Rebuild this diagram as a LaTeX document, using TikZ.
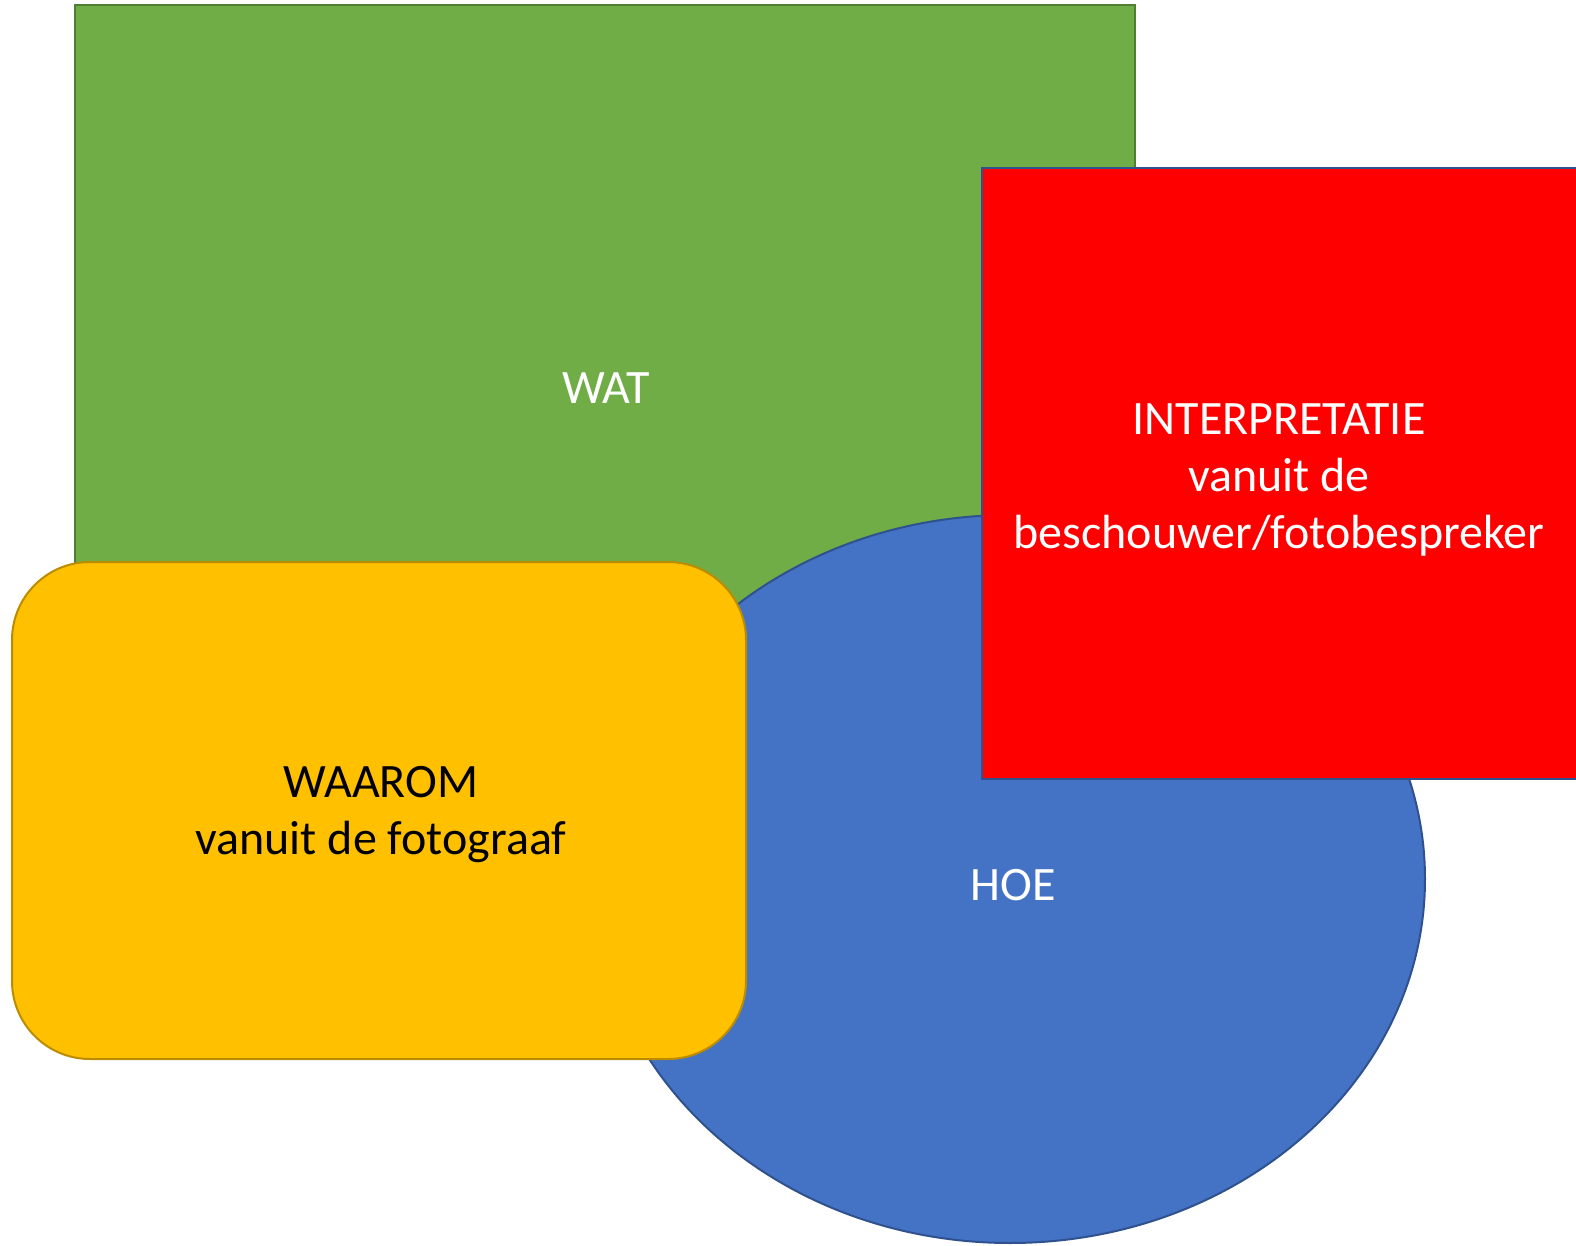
\documentclass[tikz,border=0pt]{standalone}
\usepackage{fontspec}
\setmainfont{Carlito}
\usetikzlibrary{shapes.geometric}
\definecolor{wgreen}{HTML}{70AD47}
\definecolor{wgreenb}{HTML}{507E32}
\definecolor{hblue}{HTML}{4472C4}
\definecolor{hblueb}{HTML}{2F528F}
\definecolor{ired}{HTML}{FF0000}
\definecolor{wyel}{HTML}{FFC000}
\definecolor{wyelb}{HTML}{BC8C00}
\tikzset{
  shapebase/.style={inner sep=0pt, line width=1pt},
  greenbox/.style={shapebase, rectangle, fill=wgreen, draw=wgreenb},
  blueell/.style={shapebase, ellipse, fill=hblue, draw=hblueb},
  redbox/.style={shapebase, rectangle, fill=ired, draw=hblueb},
  yelbox/.style={shapebase, rectangle, rounded corners=39pt, fill=wyel, draw=wyelb},
  lbl/.style={font=\fontsize{24pt}{28.5pt}\selectfont, align=center, inner sep=0pt},
}
\begin{document}
\begin{tikzpicture}[x=0.5pt,y=-0.5pt]
\useasboundingbox (0,0) rectangle (1576,1246);
\clip (0,0) rectangle (1576,1246);
% shapes
\node[greenbox, minimum width=530pt, minimum height=381pt] (wat) at (605,386) {};
\node[blueell, minimum width=415pt, minimum height=364pt] (hoe) at (1010,879) {};
\node[redbox, minimum width=300pt, minimum height=305.5pt] (interp) at (1282,473.5) {};
\node[yelbox, minimum width=367pt, minimum height=248.5pt] (waarom) at (379,810.5) {};
% labels
\node[lbl, text=white] (wattext) at (606,388) {WAT};
\node[lbl, text=white] (hoetext) at (1013,885) {HOE};
\node[lbl, text=white] (interptext) at (1279,479.5) {INTERPRETATIE\\vanuit de\\beschouwer/fotobespreker};
\node[lbl, text=black] (waaromtext) at (381,814.5) {WAAROM\\vanuit de fotograaf};
\end{tikzpicture}
\end{document}
